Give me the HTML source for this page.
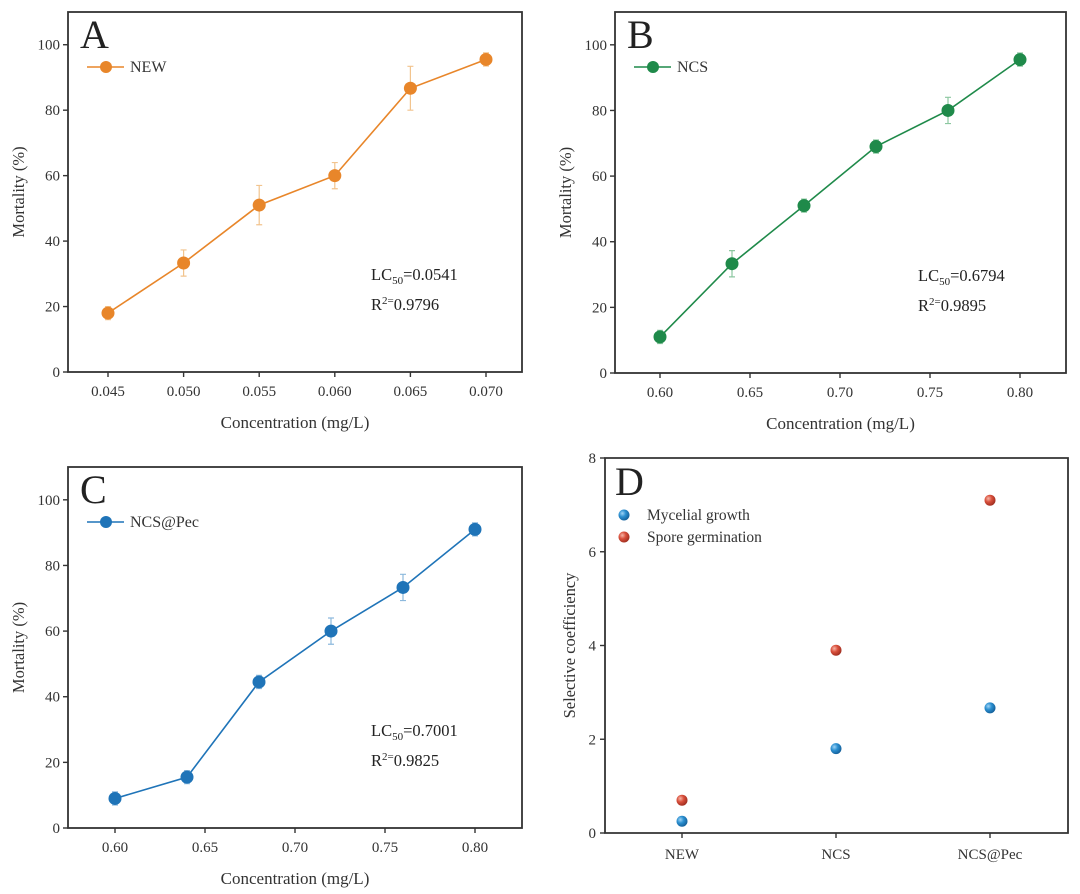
<!DOCTYPE html>
<html><head><meta charset="utf-8"><style>
body{margin:0;background:#fff;}
svg{display:block;font-family:"Liberation Serif",serif;}
</style></head><body>
<svg id="fig" width="1080" height="894" viewBox="0 0 1080 894">
<defs>
<radialGradient id="gb" cx="0.35" cy="0.35" r="0.7"><stop offset="0" stop-color="#9fd3f5"/><stop offset="0.45" stop-color="#2b8fd0"/><stop offset="1" stop-color="#135e98"/></radialGradient>
<radialGradient id="gr" cx="0.35" cy="0.35" r="0.7"><stop offset="0" stop-color="#f6b6a8"/><stop offset="0.45" stop-color="#d9503c"/><stop offset="1" stop-color="#9e2d1f"/></radialGradient>
</defs>
</svg>
<script>
// Panel A data
const aX = [0.045, 0.050, 0.055, 0.060, 0.065, 0.070];
const aY = [18, 33.3, 51, 60, 86.7, 95.5];
const aErr = [2, 4, 6, 4, 6.7, 2];
const aTicks = ["0.045","0.050","0.055","0.060","0.065","0.070"];
// Panel B data
const bX = [0.60, 0.64, 0.68, 0.72, 0.76, 0.80];
const bY = [11, 33.3, 51, 69, 80, 95.5];
const bErr = [2, 4, 2, 2, 4, 2];
const bTicks = ["0.60","0.65","0.70","0.75","0.80"];
// Panel C data
const cX = [0.60, 0.64, 0.68, 0.72, 0.76, 0.80];
const cY = [9, 15.5, 44.5, 60, 73.3, 91];
const cErr = [2, 2, 2, 4, 4, 2];
const cTicks = ["0.60","0.65","0.70","0.75","0.80"];
// Panel D data
const dCats = ["NEW", "NCS", "NCS@Pec"];
const dMycelial = [0.25, 1.8, 2.67];
const dSpore = [0.7, 3.9, 7.1];
const mortTicks = [0, 20, 40, 60, 80, 100];
const dTicks = [0, 2, 4, 6, 8];

const NS = "http://www.w3.org/2000/svg";
const svg = document.getElementById('fig');
function el(tag, attrs, parent, text){
  const e = document.createElementNS(NS, tag);
  for (const k in attrs) e.setAttribute(k, attrs[k]);
  if (text !== undefined) e.textContent = text;
  (parent || svg).appendChild(e);
  return e;
}

function linePanel(cfg){
  const g = el('g', {});
  
  
  const L=cfg.L, R=cfg.R, T=cfg.T, B=cfg.B;
  const xs = v => cfg.x0p + (v - cfg.x0) / (cfg.x1 - cfg.x0) * (cfg.x1p - cfg.x0p);
  const ys = v => B - v / 110 * (B - T);
  const frame = el('rect', {x:L, y:T, width:R-L, height:B-T, fill:'none', stroke:'#333', 'stroke-width':1.8}, g);
  
  
  mortTicks.forEach(t => {
    const y = ys(t);
    el('line', {x1:L-5, x2:L, y1:y, y2:y, stroke:'#333', 'stroke-width':1.4}, g);
    const lb = el('text', {x:L-8, y:y+5, 'text-anchor':'end', 'font-size':15, fill:'#333'}, g, t);
    
    
  });
  cfg.ticks.forEach(t => {
    const x = xs(parseFloat(t));
    el('line', {x1:x, x2:x, y1:B, y2:B+5, stroke:'#333', 'stroke-width':1.4}, g);
    const lb = el('text', {x:x, y:B+24, 'text-anchor':'middle', 'font-size':15, fill:'#333'}, g, t);
    
    
  });
  const xt = el('text', {x:(L+R)/2, y:B+56, 'text-anchor':'middle', 'font-size':17, fill:'#333'}, g, 'Concentration (mg/L)');
  
  
  const yt = el('text', {x:0, y:0, transform:`translate(${L-44},${(T+B)/2}) rotate(-90)`, 'text-anchor':'middle', 'font-size':16.5, fill:'#333'}, g, 'Mortality (%)');
  
  
  const pl = el('text', {x:L+12, y:T+36, 'font-size':40, fill:'#222'}, g, cfg.letter);
  
  
  const lg = el('g', {}, g);
  
  
  el('line', {x1:L+19, x2:L+56, y1:T+55, y2:T+55, stroke:cfg.color, 'stroke-width':1.6}, lg);
  el('circle', {cx:L+38, cy:T+55, r:6, fill:cfg.color}, lg);
  el('text', {x:L+62, y:T+60, 'font-size':16, fill:'#333'}, lg, cfg.series);
  const pts = cfg.xv.map((v,i) => xs(v) + ',' + ys(cfg.yv[i])).join(' ');
  const pline = el('polyline', {points:pts, fill:'none', stroke:cfg.color, 'stroke-width':1.6}, g);
  
  
  cfg.xv.forEach((v,i) => {
    const x = xs(v), y1 = ys(cfg.yv[i] - cfg.err[i]), y2 = ys(cfg.yv[i] + cfg.err[i]);
    const eb = el('path', {d:`M${x},${y1}V${y2}M${x-3},${y1}H${x+3}M${x-3},${y2}H${x+3}`, stroke:cfg.errColor, 'stroke-width':1.2, fill:'none'}, g);
    
    
    const pt = el('circle', {cx:x, cy:ys(cfg.yv[i]), r:6.5, fill:cfg.color}, g);
    
    
  });
  const an = el('text', {x:cfg.annX, y:B-92, 'font-size':16.5, fill:'#222'}, g);
  
  
  an.innerHTML = `LC<tspan font-size="11" dy="4">50</tspan><tspan dy="-4">=${cfg.lc}</tspan>`;
  const an2 = el('text', {x:cfg.annX, y:B-62, 'font-size':16.5, fill:'#222'}, g);
  
  
  an2.innerHTML = `R<tspan font-size="11" dy="-6">2=</tspan><tspan dy="6">${cfg.r2}</tspan>`;
}

linePanel({name:'panel-a', letter:'A', series:'NEW', color:'#e8862a', errColor:'#f2c48e', L:68, R:522, T:12, B:372,
  x0:0.045, x1:0.070, x0p:108, x1p:486, xv:aX, yv:aY, err:aErr, ticks:aTicks, lc:'0.0541', r2:'0.9796', annX:371});
linePanel({name:'panel-b', letter:'B', series:'NCS', color:'#1f8a4a', errColor:'#8cc7a0', L:615, R:1066, T:12, B:373,
  x0:0.60, x1:0.80, x0p:660, x1p:1020, xv:bX, yv:bY, err:bErr, ticks:bTicks, lc:'0.6794', r2:'0.9895', annX:918});
linePanel({name:'panel-c', letter:'C', series:'NCS@Pec', color:'#1f74b8', errColor:'#8db9dd', L:68, R:522, T:467, B:828,
  x0:0.60, x1:0.80, x0p:115, x1p:475, xv:cX, yv:cY, err:cErr, ticks:cTicks, lc:'0.7001', r2:'0.9825', annX:371});

(function(){
  const g = el('g', {});
  
  
  const L=605, R=1068, T=458, B=833;
  const ys = v => B - v / 8 * (B - T);
  const xs = i => 682 + i * 154;
  const fr = el('path', {d:`M${L},${T}H${R}V${B}H${L}Z`, fill:'none', stroke:'#333', 'stroke-width':1.8}, g);
  
  
  dTicks.forEach(t => {
    const y = ys(t);
    el('line', {x1:L-5, x2:L, y1:y, y2:y, stroke:'#333', 'stroke-width':1.4}, g);
    const lb = el('text', {x:L-9, y:y+5, 'text-anchor':'end', 'font-size':15, fill:'#333'}, g, t);
    
    
  });
  dCats.forEach((c,i) => {
    const x = xs(i);
    el('line', {x1:x, x2:x, y1:B, y2:B+5, stroke:'#333', 'stroke-width':1.4}, g);
    const lb = el('text', {x:x, y:B+26, 'text-anchor':'middle', 'font-size':15, fill:'#333'}, g, c);
    
    
  });
  const yt = el('text', {x:0, y:0, transform:`translate(${L-30},${(T+B)/2}) rotate(-90)`, 'text-anchor':'middle', 'font-size':16.5, fill:'#333'}, g, 'Selective coefficiency');
  
  
  const pl = el('text', {x:L+10, y:T+37, 'font-size':40, fill:'#222'}, g, 'D');
  
  
  const l1 = el('g', {}, g);
  
  
  el('circle', {cx:624, cy:515, r:5.5, fill:'url(#gb)'}, l1);
  el('text', {x:647, y:520, 'font-size':15.5, fill:'#333'}, l1, 'Mycelial growth');
  const l2 = el('g', {}, g);
  
  
  el('circle', {cx:624, cy:537, r:5.5, fill:'url(#gr)'}, l2);
  el('text', {x:647, y:542, 'font-size':15.5, fill:'#333'}, l2, 'Spore germination');
  dMycelial.forEach((v,i) => {
    const c = el('circle', {cx:xs(i), cy:ys(v), r:5.5, fill:'url(#gb)'}, g);
    
    
  });
  dSpore.forEach((v,i) => {
    const c = el('circle', {cx:xs(i), cy:ys(v), r:5.5, fill:'url(#gr)'}, g);
    
    
  });
})();
</script>
</body></html>
